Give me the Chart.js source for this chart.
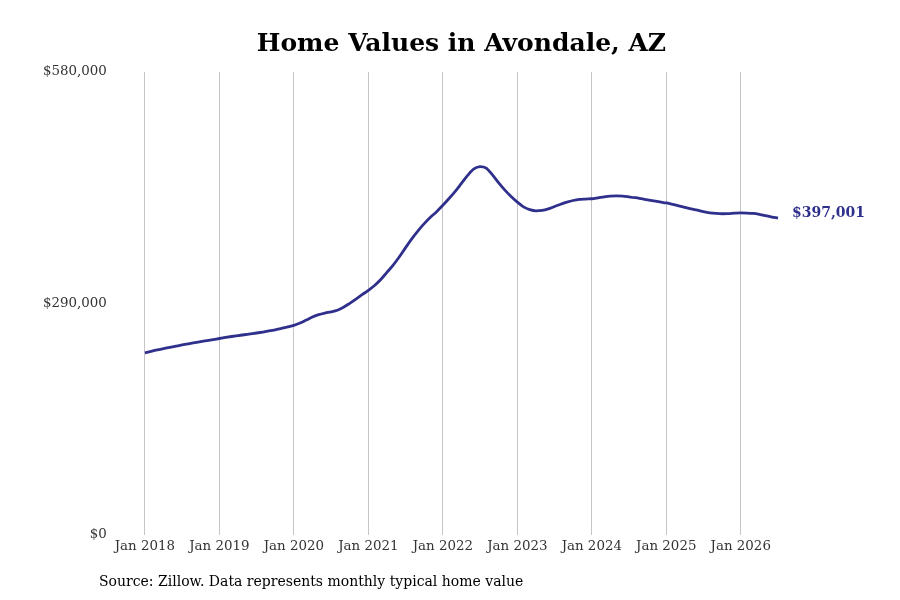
<!DOCTYPE html>
<html>
<head>
<meta charset="utf-8">
<title>Home Values in Avondale, AZ</title>
<script src="https://cdn.jsdelivr.net/npm/chart.js@4"></script>
<style>
  html, body { margin: 0; padding: 0; background: #fff; }
  #wrap { width: 900px; height: 600px; position: relative; }
</style>
</head>
<body>
<div id="wrap"><canvas id="homeChart"></canvas></div>
<script>
// monthly typical home value, Jan 2018 - Jul 2026
const years = [2018, 2019, 2020, 2021, 2022, 2023, 2024, 2025, 2026];
const monthNames = ['Jan', 'Feb', 'Mar', 'Apr', 'May', 'Jun', 'Jul', 'Aug', 'Sep', 'Oct', 'Nov', 'Dec'];

const values2018 = [228100, 230000, 231800, 233400, 235000, 236500, 238000, 239400, 240800, 242200, 243500, 244800];
const values2019 = [246100, 247400, 248600, 249700, 250800, 251900, 253000, 254200, 255500, 257000, 258800, 260600];
const values2020 = [262600, 265500, 269200, 273000, 276000, 278000, 279500, 281500, 285200, 290200, 295500, 301000];
const values2021 = [306500, 312500, 320000, 329000, 338000, 348500, 360000, 371000, 381000, 390000, 398000, 405000];
const values2022 = [413000, 421500, 430500, 440500, 450500, 458500, 461500, 459500, 451000, 441000, 432000, 424000];
const values2023 = [417000, 411000, 407500, 406000, 406500, 408500, 411500, 414300, 417000, 419000, 420300, 420800];
const values2024 = [421200, 422300, 423500, 424400, 424700, 424400, 423500, 422500, 421200, 419800, 418500, 417200];
const values2025 = [415900, 414200, 412300, 410300, 408400, 406800, 405000, 403600, 402800, 402400, 402600, 403100];
const values2026 = [403400, 403300, 402800, 401600, 400000, 398300, 397001];

const yTicks = [0, 290000, 580000];

const homeValues = [].concat(values2018, values2019, values2020, values2021, values2022,
                             values2023, values2024, values2025, values2026);

const labels = [];
years.forEach(function(y) {
    monthNames.forEach(function(m) {
        if (labels.length < homeValues.length) labels.push(m + ' ' + y);
    });
});

const chartTitle = 'Home Values in Avondale, AZ';
const sourceNote = 'Source: Zillow. Data represents monthly typical home value';
const lineColor = '#2f2f8c';
const serif = "'DejaVu Serif', 'Liberation Serif', serif";

function money(v) {
    return '$' + v.toLocaleString('en-US');
}

// title over the plot, value label at the end of the line, source note
const extrasPlugin = {
    id: 'extras',
    afterDraw: function(chart) {
        const ctx = chart.ctx;
        const area = chart.chartArea;
        const meta = chart.getDatasetMeta(0);
        const last = meta.data[meta.data.length - 1];
        ctx.save();
        ctx.textBaseline = 'middle';

        ctx.font = 'bold 25px ' + serif;
        ctx.fillStyle = '#000';
        ctx.textAlign = 'center';
        ctx.fillText(chartTitle, (area.left + area.right) / 2, 44);

        ctx.textAlign = 'left';
        ctx.font = 'bold 14px ' + serif;
        ctx.fillStyle = lineColor;
        ctx.fillText(money(homeValues[homeValues.length - 1]), last.x + 14, last.y - 5);

        ctx.font = '14px ' + serif;
        ctx.fillStyle = '#000';
        ctx.fillText(sourceNote, 99, 582);
        ctx.restore();
    }
};

new Chart(document.getElementById('homeChart'), {
    type: 'line',
    data: {
        labels: labels,
        datasets: [{
            data: homeValues,
            borderColor: lineColor,
            borderWidth: 2.8,
            pointRadius: 0,
            cubicInterpolationMode: 'monotone',
            fill: false
        }]
    },
    options: {
        responsive: true,
        maintainAspectRatio: false,
        animation: false,
        layout: {
            padding: { left: 5, right: 122, top: 72, bottom: 41 }
        },
        plugins: {
            legend: { display: false },
            tooltip: { enabled: false },
            title: { display: false }
        },
        scales: {
            x: {
                type: 'category',
                offset: false,
                grid: {
                    drawTicks: false,
                    color: function(c) {
                        return c.index % 12 === 0 ? '#c4c4c4' : 'rgba(0,0,0,0)';
                    }
                },
                border: { display: false },
                ticks: {
                    autoSkip: false,
                    maxRotation: 0,
                    padding: 4,
                    color: '#333',
                    font: { family: serif, size: 13.4 },
                    callback: function(value, index) {
                        return index % 12 === 0 ? labels[index] : '';
                    }
                }
            },
            y: {
                min: yTicks[0],
                max: yTicks[yTicks.length - 1],
                afterBuildTicks: function(axis) {
                    axis.ticks = yTicks.map(function(v) { return { value: v }; });
                },
                grid: { display: false, drawTicks: false },
                border: { display: false },
                ticks: {
                    padding: 38,
                    color: '#333',
                    font: { family: serif, size: 13.4 },
                    callback: function(v) { return money(v); }
                }
            }
        }
    },
    plugins: [extrasPlugin]
});
</script>
</body>
</html>
